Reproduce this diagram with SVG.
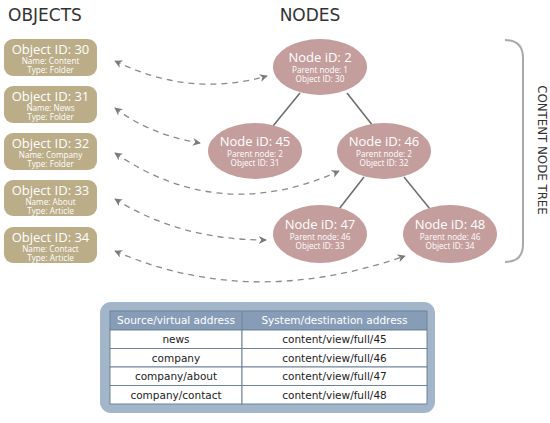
<svg xmlns="http://www.w3.org/2000/svg" width="550" height="423" viewBox="0 0 550 423">
<style>
text{font-family:"DejaVu Sans","Liberation Sans",sans-serif}
.obj rect{fill:#bbad88}
.node ellipse{fill:#c49e9d}
.t1{fill:#fff;font-size:13px;text-anchor:middle;font-family:"Open Sans","DejaVu Sans",sans-serif}
.t2{fill:#fff;font-size:8.2px;text-anchor:middle;font-family:"Open Sans","DejaVu Sans",sans-serif}
.hd{fill:#333;font-size:17px}
.tree{stroke:#6e6e6e;stroke-width:1.6;fill:none}
.dash{stroke:#8a8a8a;stroke-width:1.3;fill:none;stroke-dasharray:6 5}
.cell{fill:#fff;stroke:#6f8399;stroke-width:1}
.tt{font-size:10.5px;fill:#222;text-anchor:middle}
.th{font-size:10.5px;fill:#fff;text-anchor:middle}
</style>
<defs>
<marker id="ah" viewBox="0 0 10 10" refX="9" refY="5" markerWidth="8" markerHeight="8" markerUnits="userSpaceOnUse" orient="auto-start-reverse">
<path d="M0,0 L10,5 L0,10 L3,5 Z" fill="#7a7a7a"/>
</marker>
</defs>
<text class="hd" x="8" y="21">OBJECTS</text>
<text class="hd" x="310" y="21" text-anchor="middle">NODES</text>
<g id="bracket">
<path d="M505,40 Q523,40 523,58 L523,244 Q523,262 505,262" fill="none" stroke="#a9a9a9" stroke-width="2"/>
<text x="0" y="0" transform="translate(538,150) rotate(90)" text-anchor="middle" font-size="11.8" fill="#333">CONTENT NODE TREE</text>
</g>
<g id="obj30" class="obj"><rect x="4" y="39" width="93" height="37" rx="9"/><text class="t1" x="50.5" y="53.5">Object ID: 30</text><text class="t2" x="50.5" y="63.5">Name: Content</text><text class="t2" x="50.5" y="72.5">Type: Folder</text></g>
<g id="obj31" class="obj"><rect x="4" y="86" width="93" height="37" rx="9"/><text class="t1" x="50.5" y="100.5">Object ID: 31</text><text class="t2" x="50.5" y="110.5">Name: News</text><text class="t2" x="50.5" y="119.5">Type: Folder</text></g>
<g id="obj32" class="obj"><rect x="4" y="133" width="93" height="37" rx="9"/><text class="t1" x="50.5" y="147.5">Object ID: 32</text><text class="t2" x="50.5" y="157.5">Name: Company</text><text class="t2" x="50.5" y="166.5">Type: Folder</text></g>
<g id="obj33" class="obj"><rect x="4" y="180" width="93" height="36" rx="9"/><text class="t1" x="50.5" y="194.5">Object ID: 33</text><text class="t2" x="50.5" y="204.5">Name: About</text><text class="t2" x="50.5" y="213.5">Type: Article</text></g>
<g id="obj34" class="obj"><rect x="4" y="227" width="93" height="36" rx="9"/><text class="t1" x="50.5" y="241.5">Object ID: 34</text><text class="t2" x="50.5" y="251.5">Name: Contact</text><text class="t2" x="50.5" y="260.5">Type: Article</text></g>
<g id="connectors">
<line class="tree" x1="300" y1="93" x2="273" y2="126"/>
<line class="tree" x1="347" y1="93" x2="373" y2="126"/>
<line class="tree" x1="364" y1="177" x2="339" y2="209"/>
<line class="tree" x1="404" y1="177" x2="430" y2="209"/>
<path class="dash" d="M115,61 Q190,98 267,76" marker-start="url(#ah)" marker-end="url(#ah)"/>
<path class="dash" d="M115,108 Q150,135 200,143" marker-start="url(#ah)" marker-end="url(#ah)"/>
<path class="dash" d="M115,153 Q220,225 339,171" marker-start="url(#ah)" marker-end="url(#ah)"/>
<path class="dash" d="M115,199 Q180,240 266,240" marker-start="url(#ah)" marker-end="url(#ah)"/>
<path class="dash" d="M115,251 Q250,310 405,256" marker-start="url(#ah)" marker-end="url(#ah)"/>
</g>
<g id="node2" class="node"><ellipse cx="320" cy="67" rx="47" ry="28"/><text class="t1" x="320" y="61.5">Node iD: 2</text><text class="t2" x="320" y="72.5">Parent node: 1</text><text class="t2" x="320" y="82">Object ID: 30</text></g>
<g id="node45" class="node"><ellipse cx="255" cy="151" rx="47" ry="28"/><text class="t1" x="255" y="145.5">Node iD: 45</text><text class="t2" x="255" y="156.5">Parent node: 2</text><text class="t2" x="255" y="166">Object ID: 31</text></g>
<g id="node46" class="node"><ellipse cx="384" cy="151" rx="47" ry="28"/><text class="t1" x="384" y="145.5">Node iD: 46</text><text class="t2" x="384" y="156.5">Parent node: 2</text><text class="t2" x="384" y="166">Object ID: 32</text></g>
<g id="node47" class="node"><ellipse cx="320" cy="234" rx="47" ry="29"/><text class="t1" x="320" y="228.5">Node iD: 47</text><text class="t2" x="320" y="239.5">Parent node: 46</text><text class="t2" x="320" y="249">Object ID: 33</text></g>
<g id="node48" class="node"><ellipse cx="450" cy="234" rx="47" ry="29"/><text class="t1" x="450" y="228.5">Node iD: 48</text><text class="t2" x="450" y="239.5">Parent node: 46</text><text class="t2" x="450" y="249">Object ID: 34</text></g>
<g id="table">
<rect x="100" y="302" width="335" height="111" rx="11" fill="#a2b5c9"/>
<rect x="110" y="311" width="317" height="19" fill="#879db7" stroke="#6f8399"/>
<line x1="242" y1="311" x2="242" y2="330" stroke="#6f8399"/>
<text class="th" x="176" y="324">Source/virtual address</text>
<text class="th" x="334.5" y="324">System/destination address</text>
<rect class="cell" x="110" y="330" width="132" height="18.5"/><rect class="cell" x="242" y="330" width="185" height="18.5"/>
<rect class="cell" x="110" y="348.5" width="132" height="18.5"/><rect class="cell" x="242" y="348.5" width="185" height="18.5"/>
<rect class="cell" x="110" y="367" width="132" height="18.5"/><rect class="cell" x="242" y="367" width="185" height="18.5"/>
<rect class="cell" x="110" y="385.5" width="132" height="18.5"/><rect class="cell" x="242" y="385.5" width="185" height="18.5"/>
<text class="tt" x="176" y="343">news</text><text class="tt" x="334.5" y="343">content/view/full/45</text>
<text class="tt" x="176" y="361.5">company</text><text class="tt" x="334.5" y="361.5">content/view/full/46</text>
<text class="tt" x="176" y="380">company/about</text><text class="tt" x="334.5" y="380">content/view/full/47</text>
<text class="tt" x="176" y="398.5">company/contact</text><text class="tt" x="334.5" y="398.5">content/view/full/48</text>
</g>
</svg>
